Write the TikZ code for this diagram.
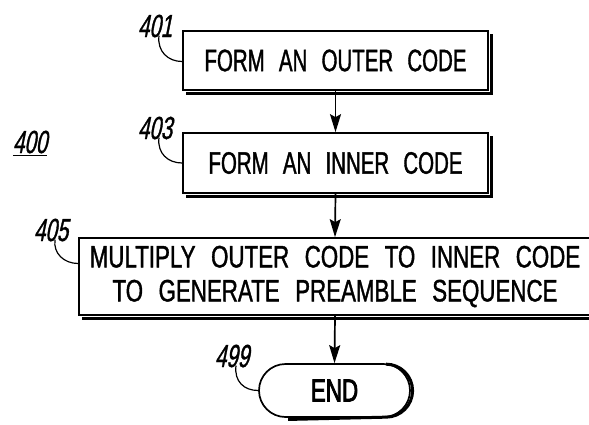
\documentclass[tikz,border=0pt]{standalone}
\usepackage{fontspec}
\newfontfamily\pfont[FakeStretch=0.66,WordSpace=2.5,FakeBold=1.2]{Liberation Sans}
\newfontfamily\pfontw[FakeStretch=0.72,WordSpace=2.5,FakeBold=1.2]{Liberation Sans}
\newfontfamily\plabel[FakeStretch=0.64,FakeSlant=0.2,FakeBold=1]{Liberation Sans}
\newfontfamily\pbold[FakeStretch=0.7,FakeBold=2.5]{Liberation Sans}
\usetikzlibrary{arrows.meta,shapes.misc}
\tikzset{
  stepbox/.style={draw, line width=1.7pt, fill=white, rectangle, inner sep=0pt,
    font=\pfont\fontsize{31}{34}\selectfont, align=center},
  endbox/.style={draw, line width=1.7pt, fill=white, rounded rectangle, inner sep=0pt,
    font=\pbold\fontsize{32}{34}\selectfont},
  reflabel/.style={font=\plabel\fontsize{32}{34}\selectfont, inner sep=0pt},
  flow/.style={line width=1.7pt, -{Stealth[length=18pt,width=11pt,inset=3pt]}},
  leader/.style={line width=1.2pt},
  shadow/.style={fill=black}
}
\begin{document}
\begin{tikzpicture}[x=1pt,y=-1pt]
\useasboundingbox (0,0) rectangle (589,424);
\begin{scope}
\clip (0,0) rectangle (589,424);
\node[stepbox, minimum width=305pt, minimum height=59pt] (b1) at (335.5,60.5) {FORM AN OUTER CODE};
\node[stepbox, minimum width=305pt, minimum height=60pt] (b2) at (335.5,163) {FORM AN INNER CODE};
\node[stepbox, font=\pfontw\fontsize{31}{34}\selectfont, minimum width=512pt, minimum height=77pt] (b3) at (335,276.5) {MULTIPLY OUTER CODE TO INNER CODE\\TO GENERATE PREAMBLE SEQUENCE};
\node[endbox, minimum width=151pt, minimum height=53pt] (b4) at (334.5,390.5) {END};
% shadows
\foreach \b in {b1,b2,b3}{
  \fill[shadow] ([xshift=0.8pt,yshift=-4pt]\b.north east) rectangle ([xshift=4.5pt,yshift=-4pt]\b.south east);
  \fill[shadow] ([xshift=4pt,yshift=-0.8pt]\b.south west) rectangle ([xshift=4.5pt,yshift=-4pt]\b.south east);
}
\draw[line width=3pt] ([shift={(2.6pt,-1pt)}]b4.north east) arc[start angle=90, end angle=-90, radius=26.5pt] -- ([shift={(2.6pt,-1.6pt)}]b4.south west);
\end{scope}

\node[reflabel] (l401) at (155,26) {401};
\node[reflabel] (l403) at (155,128) {403};
\node[reflabel] (l405) at (51,230) {405};
\node[reflabel] (l499) at (232,356) {499};
\node[reflabel] (l400) at (30,143) {\underline{400}};

\draw[flow] (b1.south) -- (b2.north);
\draw[flow] (b2.south) -- (b3.north);
\draw[flow] (b3.south) -- (b4.north);

\draw[leader] ([xshift=4pt,yshift=2pt]l401.south) .. controls +(-2,16) and +(-14,0) .. ([yshift=-1pt]b1.west);
\draw[leader] ([xshift=4pt,yshift=2pt]l403.south) .. controls +(-2,16) and +(-14,0) .. (b2.west);
\draw[leader] ([xshift=4pt,yshift=2pt]l405.south) .. controls +(-2,14) and +(-14,0) .. ([yshift=13pt]b3.west);
\draw[leader] ([xshift=4pt,yshift=2pt]l499.south) .. controls +(-2,16) and +(-14,0) .. (b4.west);
\end{tikzpicture}
\end{document}
